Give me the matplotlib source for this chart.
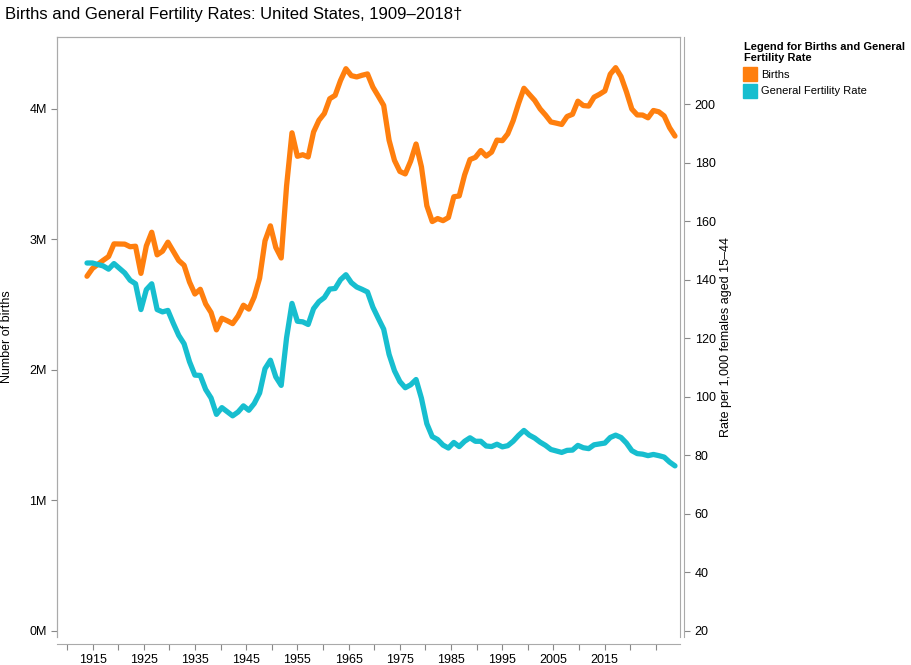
import matplotlib
matplotlib.use("Agg")
import matplotlib.pyplot as plt
import numpy as np
from matplotlib.lines import Line2D

plt.rcParams['font.family'] = ['Liberation Sans', 'DejaVu Sans']

years = list(range(1909, 2019))
births = [2.718,2.777,2.809,2.840,2.869,2.966,2.965,2.964,2.944,2.948,2.740,2.950,3.055,2.882,2.910,2.979,2.909,2.839,2.802,2.674,
          2.582,2.618,2.506,2.440,2.307,2.396,2.377,2.355,2.413,2.496,2.466,2.559,2.703,2.989,3.104,2.939,2.858,3.411,3.817,3.637,
          3.649,3.632,3.823,3.913,3.965,4.078,4.104,4.218,4.308,4.255,4.245,4.258,4.268,4.167,4.098,4.027,3.760,3.606,3.521,3.502,
          3.600,3.731,3.556,3.258,3.137,3.160,3.144,3.168,3.327,3.333,3.494,3.612,3.629,3.681,3.639,3.669,3.761,3.757,3.809,3.910,
          4.041,4.158,4.111,4.065,4.000,3.953,3.900,3.891,3.881,3.942,3.959,4.059,4.026,4.022,4.090,4.112,4.138,4.266,4.316,4.248,
          4.131,3.999,3.954,3.953,3.932,3.988,3.978,3.946,3.856,3.792]
gfr = [145.7,145.7,145.2,144.7,143.6,145.5,143.9,142.3,139.8,138.6,129.8,136.6,138.6,129.8,129.0,129.5,125.1,121.0,118.1,112.0,
       107.4,107.3,102.5,99.6,94.0,96.3,94.9,93.5,94.8,96.9,95.4,97.7,101.3,109.6,112.5,106.8,103.9,120.2,131.9,125.8,
       125.6,124.7,130.1,132.5,133.9,136.8,137.0,140.0,141.7,139.0,137.5,136.7,135.8,130.6,126.8,123.1,114.5,108.9,105.2,103.1,
       104.1,105.9,99.5,90.8,86.4,85.4,83.5,82.5,84.4,83.0,84.8,86.0,84.8,84.8,83.2,83.0,83.8,82.9,83.3,84.8,
       86.8,88.5,86.9,85.9,84.5,83.4,82.0,81.5,81.0,81.7,81.8,83.4,82.6,82.3,83.6,83.9,84.2,86.1,86.9,86.1,
       84.2,81.6,80.6,80.4,79.9,80.3,79.9,79.4,77.7,76.4]
left_ticks = [0, 1, 2, 3, 4]
left_labels = ['0M', '1M', '2M', '3M', '4M']
right_ticks = [20, 40, 60, 80, 100, 120, 140, 160, 180, 200]
x_labels = ['1915','1925','1935','1945','1955','1965','1975','1985','1995','2005','2015']

c_b = '#ff7f0e'
c_g = '#17becf'

fig = plt.figure(figsize=(9.12, 6.65), dpi=100)
ax = fig.add_axes([57/912, 1-637/665, 623/912, 600/665])
ax2 = ax.twinx()

ax.plot(years, births, color=c_b, lw=3.8, solid_capstyle='round', solid_joinstyle='round')
ax2.plot(years, gfr, color=c_g, lw=3.8, solid_capstyle='round', solid_joinstyle='round')

ax.set_xlim(1903.44, 2018.93)
ax.set_ylim(-0.046, 4.551)
ax2.set_ylim(17.95, 222.9)

ticks = 1905.29 + 4.746*np.arange(24)
ax.set_xticks(ticks)
ax.set_xticklabels([x_labels[i//2] if (i % 2 == 1 and i//2 < len(x_labels)) else '' for i in range(24)])
ax.set_yticks(left_ticks)
ax.set_yticklabels(left_labels)
ax2.set_yticks(right_ticks)

for a in (ax, ax2):
    for s in a.spines.values():
        s.set_color('#aaaaaa')
    a.tick_params(colors='#888888', labelcolor='black', labelsize=9, length=4)
ax.spines['bottom'].set_position(('outward', 5))
ax2.spines['right'].set_position(('outward', 3))
ax2.spines['bottom'].set_visible(False)

ax.set_ylabel('Number of births', fontsize=9, labelpad=12)
ax2.set_ylabel('Rate per 1,000 females aged 15\u201344', fontsize=9, labelpad=3)

fig.text(5/912, 1-15/665, 'Births and General Fertility Rates: United States, 1909\u20132018\u2020',
         fontsize=12, va='center', ha='left')

handles = [Line2D([], [], marker='s', ls='', color=c_b, markersize=10),
           Line2D([], [], marker='s', ls='', color=c_g, markersize=10)]
leg = fig.legend(handles, ['Births', 'General Fertility Rate'], loc='upper left',
                 bbox_to_anchor=(738/912, 1-36/665), frameon=False, fontsize=8,
                 title='Legend for Births and General\nFertility Rate', alignment='left',
                 handletextpad=0.4, borderpad=0, labelspacing=0.6, handlelength=1.2)
leg.get_title().set_fontweight('bold')
leg.get_title().set_fontsize(8)

fig.savefig('out.png', dpi=100)
